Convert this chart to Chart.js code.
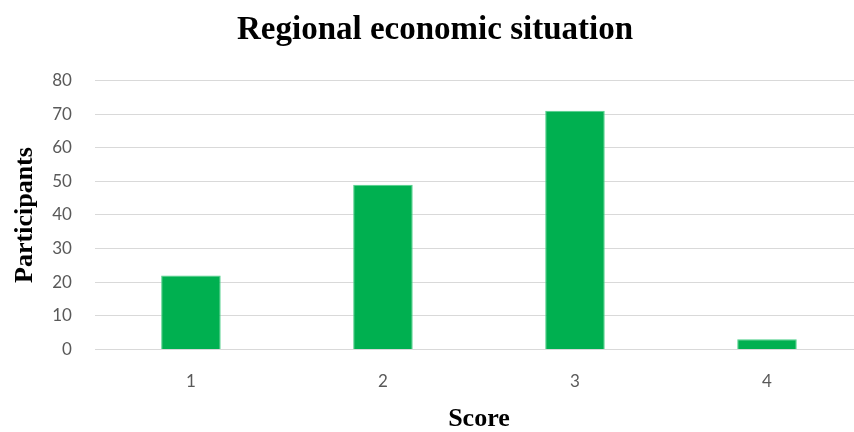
<!DOCTYPE html>
<html>
<head>
<meta charset="utf-8">
<script src="https://cdn.jsdelivr.net/npm/chart.js@4"></script>
<style>
  html, body { margin: 0; padding: 0; background: #fff; overflow: hidden; }
  #wrap { width: 854px; height: 432px; overflow: hidden; }
  #box { width: 864px; height: 432px; }
</style>
</head>
<body>
<div id="wrap"><div id="box"><canvas id="chart"></canvas></div></div>
<script>
// data
const scores = ["1", "2", "3", "4"];
const participants = [22, 49, 71, 3];
const yTicks = [0, 10, 20, 30, 40, 50, 60, 70, 80];

const serif = "'Liberation Serif', 'Times New Roman', serif";
const sans = "Lato, 'Open Sans', sans-serif";

new Chart(document.getElementById("chart"), {
    type: "bar",
    data: {
        labels: scores,
        datasets: [{
            data: participants,
            backgroundColor: "#00b050",
            borderColor: "#4fd08a",
            borderWidth: 1,
            barPercentage: 0.31,
            categoryPercentage: 1
        }]
    },
    options: {
        responsive: true,
        maintainAspectRatio: false,
        animation: false,
        layout: { padding: { top: 11, left: 7, right: 1, bottom: 0 } },
        plugins: {
            legend: { display: false },
            tooltip: { enabled: false },
            title: {
                display: true,
                text: "Regional economic situation",
                color: "#000",
                font: { family: serif, size: 33, weight: "bold" },
                padding: { top: 0, bottom: 30 }
            }
        },
        scales: {
            x: {
                grid: { display: false, drawTicks: false },
                border: { display: false },
                ticks: {
                    color: "#595959",
                    font: { family: sans, size: 17 },
                    padding: 22
                },
                title: {
                    display: true,
                    text: "Score",
                    color: "#000",
                    font: { family: serif, size: 26, weight: "bold" },
                    padding: { top: -10, bottom: -3 }
                }
            },
            y: {
                min: 0,
                max: 80,
                afterBuildTicks: (axis) => { axis.ticks = yTicks.map(v => ({ value: v })); },
                grid: { color: "#d9d9d9", lineWidth: 1, drawTicks: false },
                border: { display: false },
                ticks: {
                    color: "#595959",
                    font: { family: sans, size: 17 },
                    padding: 23
                },
                title: {
                    display: true,
                    text: "Participants",
                    color: "#000",
                    font: { family: serif, size: 26, weight: "bold" },
                    padding: { top: 3, bottom: -12 }
                }
            }
        }
    }
});
</script>
</body>
</html>
